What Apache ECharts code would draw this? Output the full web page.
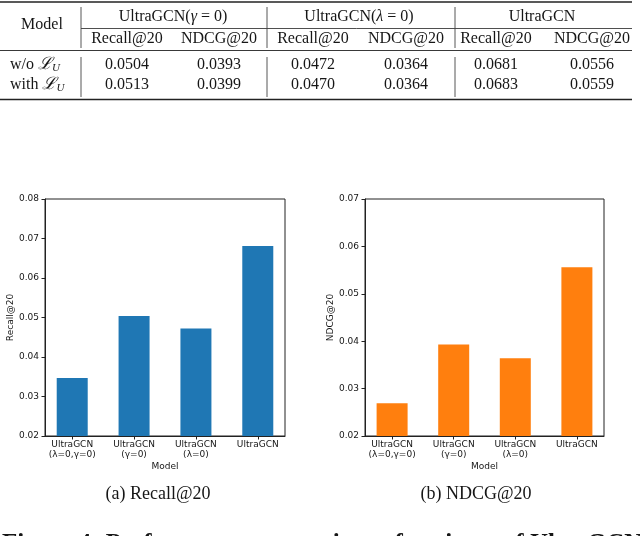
<!DOCTYPE html>
<html><head><meta charset="utf-8">
<script src="https://cdn.jsdelivr.net/npm/echarts@6/dist/echarts.min.js"></script>
<style>html,body{margin:0;padding:0;background:#fff}#c{width:640px;height:536px}</style>
</head><body><div id="c"></div>
<script>
// ---- data ----
const categories = ['UltraGCN\n(λ=0,γ=0)', 'UltraGCN\n(γ=0)', 'UltraGCN\n(λ=0)', 'UltraGCN'];
const recallValues = [0.0347, 0.0504, 0.0472, 0.0681];
const ndcgValues = [0.0269, 0.0393, 0.0364, 0.0556];
const recallAxis = {min: 0.02, max: 0.08, step: 0.01, name: 'Recall@20'};
const ndcgAxis = {min: 0.02, max: 0.07, step: 0.01, name: 'NDCG@20'};
const xAxisName = 'Model';

const tableGroups = ['UltraGCN({g|γ} = 0)', 'UltraGCN({g|λ} = 0)', 'UltraGCN'];
const tableMetrics = ['Recall@20', 'NDCG@20'];
const tableRowLabels = ['w/o', 'with'];
const tableWoLU = ['0.0504', '0.0393', '0.0472', '0.0364', '0.0681', '0.0556'];
const tableWithLU = ['0.0513', '0.0399', '0.0470', '0.0364', '0.0683', '0.0559'];
const subCaptions = ['(a) Recall@20', '(b) NDCG@20'];
const figureCaption = 'Figure 4: Performance comparison of variants of UltraGCN';

// ---- layout / style ----
const SERIF = '"Liberation Serif", "DejaVu Serif", serif';
const SANS = '"DejaVu Sans", sans-serif';
const INK = '#161616';
const tFont = '16px ' + SERIF;
const colX = [127, 219, 313, 406, 496, 592];
const groupX = [173, 359, 542];
const vLines = [81, 267, 455];

const g = [];
function line(x1, y1, x2, y2, w, c) {
  g.push({type: 'line', silent: true, shape: {x1, y1, x2, y2}, style: {stroke: c || '#222', lineWidth: w}});
}
function text(x, y, t, font, align, rich) {
  const st = {text: t, x, y, font, fill: INK, align: align || 'center', textAlign: align || 'center',
              verticalAlign: 'middle', textVerticalAlign: 'middle'};
  if (rich) st.rich = rich;
  g.push({type: 'text', silent: true, style: st});
}
// rules
line(0, 2, 632, 2, 1.6);
line(81, 28.5, 632, 28.5, 0.8);
line(0, 50.5, 632, 50.5, 0.9);
line(0, 99.5, 632, 99.5, 1.6);
vLines.forEach(x => { line(x, 7, x, 48, 0.9, '#444'); line(x, 57, x, 97, 0.9, '#444'); });
// header
text(42, 25, 'Model', tFont);
const gRich = {g: {font: 'italic 16px ' + SERIF, fill: INK}};
tableGroups.forEach((t, i) => text(groupX[i], 17, t, tFont, 'center', gRich));
colX.forEach((x, i) => text(x, 38.5, tableMetrics[i % 2], tFont));
// rows
const rowRich = {
  n: {font: '16px ' + SERIF, fill: INK},
  L: {font: 'italic 17px "DejaVu Serif", serif', fill: INK},
  s: {font: 'italic 11px ' + SERIF, fill: INK, padding: [7, 0, 0, 0]}
};
[tableWoLU, tableWithLU].forEach((row, r) => {
  const y = 65 + r * 20;
  text(10, y, '{n|' + tableRowLabels[r] + ' }{L|ℒ}{s|U}', tFont, 'left', rowRich);
  row.forEach((v, i) => text(colX[i], y, v, tFont));
});
// captions
text(158, 494, subCaptions[0], '18px ' + SERIF);
text(476, 494, subCaptions[1], '18px ' + SERIF);
text(2, 545, figureCaption, 'bold 25px ' + SERIF, 'left');

// ---- charts ----
const tickIdx = categories.map((_, i) => i);
const lab = {fontFamily: SANS, fontSize: 9, color: INK};
function xAx(gi) {
  return {
    gridIndex: gi, type: 'value', min: -0.44, max: 3.44,
    axisLine: {show: true, onZero: false, lineStyle: {color: '#222', width: 1}},
    splitLine: {show: false},
    axisTick: {show: true, customValues: tickIdx, length: 3.5, lineStyle: {color: '#222'}},
    axisLabel: Object.assign({customValues: tickIdx, formatter: v => categories[Math.round(v)],
      lineHeight: 10.5, margin: 3}, lab),
    name: xAxisName, nameLocation: 'middle', nameGap: 26, nameTextStyle: lab
  };
}
function yAx(gi, a) {
  return {
    gridIndex: gi, type: 'value', min: a.min, max: a.max, interval: a.step,
    axisLine: {show: true, onZero: false, lineStyle: {color: '#222', width: 1}},
    splitLine: {show: false},
    axisTick: {show: true, length: 3.5, lineStyle: {color: '#222'}},
    axisLabel: Object.assign({formatter: v => v.toFixed(2), margin: 6}, lab),
    name: a.name, nameLocation: 'middle', nameGap: 28, nameTextStyle: lab
  };
}
const option = {
  animation: false,
  backgroundColor: '#fff',
  grid: [
    {left: 45, top: 199, width: 240, height: 237, show: true, borderColor: '#222', borderWidth: 1},
    {left: 365, top: 199, width: 239, height: 237, show: true, borderColor: '#222', borderWidth: 1}
  ],
  xAxis: [xAx(0), xAx(1)],
  yAxis: [yAx(0, recallAxis), yAx(1, ndcgAxis)],
  series: [
    {type: 'bar', xAxisIndex: 0, yAxisIndex: 0, barWidth: 31, clip: true,
     data: recallValues.map((v, i) => [i, v]), itemStyle: {color: '#1f77b4'}},
    {type: 'bar', xAxisIndex: 1, yAxisIndex: 1, barWidth: 31, clip: true,
     data: ndcgValues.map((v, i) => [i, v]), itemStyle: {color: '#ff7f0e'}}
  ],
  graphic: g
};
const chart = echarts.init(document.getElementById('c'), null, {renderer: 'canvas'});
chart.setOption(option);
</script></body></html>
